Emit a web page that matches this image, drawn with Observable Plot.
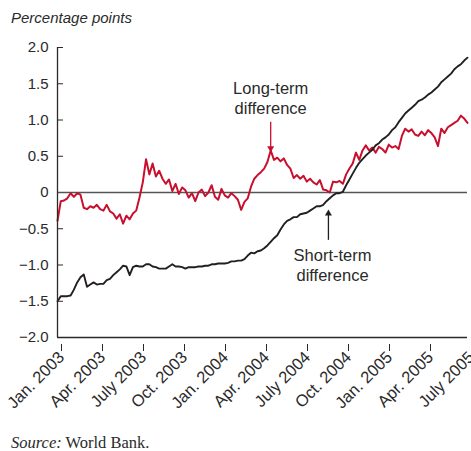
<!DOCTYPE html>
<html>
<head>
<meta charset="utf-8">
<script src="https://cdn.jsdelivr.net/npm/d3@7"></script>
<script src="https://cdn.jsdelivr.net/npm/@observablehq/plot@0.6"></script>
<style>
  html, body { margin: 0; padding: 0; background: #fff; }
  #wrap { position: relative; width: 471px; height: 451px; font-family: "Liberation Sans", Arial, sans-serif; color: #2a2a2a; }
  #title { position: absolute; left: 11px; top: 9px; font-size: 15px; font-style: italic; white-space: nowrap; }
  #chart { position: absolute; left: 0; top: 30px; }
  #source { position: absolute; left: 11px; top: 433px; font-family: "Liberation Serif", "Times New Roman", serif; font-size: 16.5px; white-space: nowrap; }
</style>
</head>
<body>
<div id="wrap">
  <div id="title">Percentage points</div>
  <div id="chart"></div>
  <div id="source"><i>Source:</i> World Bank.</div>
</div>
<script>
// Time (decimal years), sampled about weekly
const years = [
2003.00,2003.02,2003.04,2003.06,2003.08,2003.10,2003.12,2003.14,2003.16,2003.18,
2003.20,2003.22,2003.24,2003.26,2003.28,2003.30,2003.32,2003.34,2003.36,2003.38,
2003.40,2003.42,2003.44,2003.46,2003.48,2003.50,2003.52,2003.54,2003.56,2003.58,
2003.60,2003.62,2003.64,2003.66,2003.68,2003.70,2003.72,2003.74,2003.76,2003.78,
2003.80,2003.82,2003.84,2003.86,2003.88,2003.90,2003.92,2003.94,2003.96,2003.98,
2004.00,2004.02,2004.04,2004.06,2004.08,2004.10,2004.12,2004.14,2004.16,2004.18,
2004.20,2004.22,2004.24,2004.26,2004.28,2004.30,2004.32,2004.34,2004.36,2004.38,
2004.40,2004.42,2004.44,2004.46,2004.48,2004.50,2004.52,2004.54,2004.56,2004.58,
2004.60,2004.62,2004.64,2004.66,2004.68,2004.70,2004.72,2004.74,2004.76,2004.78,
2004.80,2004.82,2004.84,2004.86,2004.88,2004.90,2004.92,2004.94,2004.96,2004.98,
2005.00,2005.02,2005.04,2005.06,2005.08,2005.10,2005.12,2005.14,2005.16,2005.18,
2005.20,2005.22,2005.24,2005.26,2005.28,2005.30,2005.32,2005.34,2005.36,2005.38,
2005.40,2005.42,2005.44,2005.46,2005.48,2005.50
];

// Long-term difference (red)
const longTerm = [
-0.39,-0.12,-0.11,-0.08,-0.01,-0.06,-0.01,-0.03,-0.21,-0.23,
-0.19,-0.21,-0.17,-0.23,-0.25,-0.17,-0.26,-0.29,-0.36,-0.30,
-0.43,-0.32,-0.37,-0.29,-0.25,-0.07,0.14,0.46,0.25,0.40,
0.22,0.30,0.19,0.12,0.18,0.02,0.12,-0.02,0.07,0.03,
-0.07,-0.01,-0.12,0.00,0.04,-0.05,0.00,0.10,-0.06,-0.10,
0.05,-0.04,-0.07,-0.01,-0.05,-0.10,-0.24,-0.13,-0.08,0.08,
0.19,0.24,0.28,0.33,0.42,0.58,0.45,0.48,0.43,0.47,
0.38,0.33,0.20,0.24,0.19,0.23,0.15,0.19,0.14,0.11,
0.17,0.04,0.03,0.00,0.15,0.14,0.16,0.12,0.25,0.33,
0.40,0.55,0.45,0.58,0.65,0.58,0.62,0.55,0.63,0.60,
0.55,0.66,0.62,0.64,0.60,0.78,0.88,0.84,0.87,0.80,
0.78,0.84,0.79,0.86,0.82,0.76,0.64,0.88,0.82,0.90,
0.93,0.96,0.99,1.06,1.02,0.96
];

// Short-term difference (black)
const shortTerm = [
-1.50,-1.43,-1.43,-1.43,-1.42,-1.34,-1.24,-1.17,-1.13,-1.30,
-1.27,-1.24,-1.27,-1.26,-1.26,-1.21,-1.19,-1.14,-1.10,-1.06,
-1.01,-1.02,-1.14,-1.03,-1.01,-1.02,-1.02,-0.99,-0.99,-1.02,
-1.03,-1.05,-1.05,-1.05,-1.02,-0.99,-1.02,-1.02,-1.03,-1.05,
-1.03,-1.03,-1.03,-1.02,-1.02,-1.01,-1.01,-0.99,-0.99,-0.98,
-0.98,-0.98,-0.97,-0.95,-0.95,-0.94,-0.94,-0.92,-0.87,-0.83,
-0.84,-0.81,-0.80,-0.77,-0.73,-0.68,-0.63,-0.59,-0.51,-0.44,
-0.39,-0.37,-0.34,-0.34,-0.30,-0.29,-0.28,-0.25,-0.22,-0.19,
-0.19,-0.17,-0.12,-0.08,-0.04,-0.01,-0.01,0.01,0.10,0.18,
0.26,0.34,0.41,0.46,0.51,0.55,0.59,0.65,0.68,0.73,
0.76,0.80,0.86,0.90,0.97,1.03,1.09,1.13,1.17,1.21,
1.26,1.28,1.31,1.35,1.38,1.42,1.46,1.52,1.56,1.60,
1.64,1.70,1.74,1.77,1.82,1.86
];

const xTicks = [2003, 2003.25, 2003.5, 2003.75, 2004, 2004.25, 2004.5, 2004.75, 2005, 2005.25, 2005.5];
const xLabels = ["Jan. 2003","Apr. 2003","July 2003","Oct. 2003","Jan. 2004","Apr. 2004","July 2004","Oct. 2004","Jan. 2005","Apr. 2005","July 2005"];
const yTicks = [2, 1.5, 1, 0.5, 0, -0.5, -1, -1.5, -2];
const yLabels = ["2.0","1.5","1.0","0.5","0","\u22120.5","\u22121.0","\u22121.5","\u22122.0"];

// Annotations
const annoLabels = ["Long-term\ndifference", "Short-term\ndifference"];
const annoX = [2004.30, 2004.677];
const annoY = [1.31, -1.0];
const arrowX = [2004.30, 2004.652];
const arrowFrom = [0.97, -0.66];
const arrowTo = [0.61, -0.29];
const arrowDir = [180, 0];
const annoColors = ["#c8102e", "#231f20"];

const RED = "#c8102e";
const BLACK = "#231f20";

const longData = years.map((t, i) => ({t, v: longTerm[i]}));
const shortData = years.map((t, i) => ({t, v: shortTerm[i]}));
const annos = annoLabels.map((label, i) => ({label, x: annoX[i], y: annoY[i], ax: arrowX[i], y1: arrowFrom[i], y2: arrowTo[i], rot: arrowDir[i], c: annoColors[i]}));

const chart = Plot.plot({
  width: 471,
  height: 400,
  marginLeft: 57,
  marginRight: 4,
  marginTop: 17,
  marginBottom: 93,
  style: {fontFamily: "'Liberation Sans', Arial, sans-serif", fontSize: "15px", color: "#2a2a2a", background: "#fff", overflow: "visible"},
  x: {type: "linear", domain: [2003, 2005.5]},
  y: {domain: [-2, 2]},
  marks: [
    Plot.axisX({ticks: xTicks, tickFormat: d => xLabels[xTicks.indexOf(d)], tickRotate: -45, tickSize: 7, tickPadding: 3, label: null, stroke: "#2a2a2a", fontSize: 16.5, dx: 4, dy: 7}),
    Plot.axisY({ticks: yTicks, tickFormat: d => yLabels[yTicks.indexOf(d)], tickSize: -6, tickPadding: 15, label: null, stroke: "#2a2a2a", fontSize: 15}),
    Plot.ruleY([0], {stroke: "#555", strokeWidth: 1.3}),
    Plot.line(longData, {x: "t", y: "v", stroke: RED, strokeWidth: 2}),
    Plot.line(shortData, {x: "t", y: "v", stroke: BLACK, strokeWidth: 1.9}),
    Plot.ruleX([2003], {stroke: "#2a2a2a", strokeWidth: 1.3}),
    Plot.ruleY([-2], {stroke: "#2a2a2a", strokeWidth: 1.3}),
    Plot.ruleX(annos, {x: "ax", y1: "y1", y2: "y2", stroke: "c", strokeWidth: 1.3}),
    Plot.dot(annos, {x: "ax", y: "y2", symbol: "triangle", rotate: "rot", r: 2.6, fill: "c", stroke: "none"}),
    Plot.text(annos, {x: "x", y: "y", text: "label", fill: "#2a2a2a", fontSize: 16.5, lineHeight: 1.2})
  ]
});
document.getElementById("chart").appendChild(chart);
</script>
</body>
</html>
